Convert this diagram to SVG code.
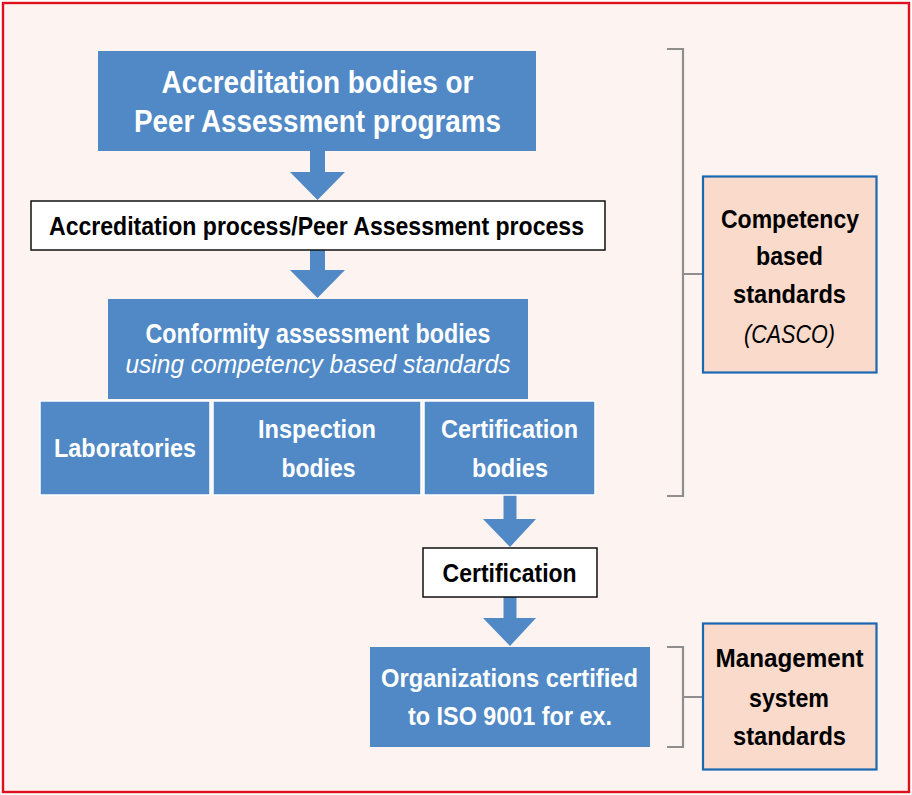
<svg xmlns="http://www.w3.org/2000/svg" width="912" height="795" viewBox="0 0 912 795">
<style>
.blue{fill:#5089C6}
.white{fill:#FFFFFF;stroke:#111111;stroke-width:1.5}
.std{fill:#F9DACB;stroke:#1A68B2;stroke-width:2.2}
.br{fill:none;stroke:#8E8E8E;stroke-width:2.2}
.arr{fill:#5089C6}
text{font-family:"Liberation Sans",Arial,sans-serif;font-weight:bold;text-anchor:middle}
.w{fill:#FFFFFF}
.k{fill:#000000}
.it{font-style:italic;font-weight:normal}
</style>
<rect x="0" y="0" width="912" height="795" fill="#FFFFFF"/>
<rect x="3" y="3" width="906" height="789" fill="#FDF4F1" stroke="#E0101E" stroke-width="2.4"/>
<g id="connectors">
<polygon class="arr" points="310,150 325,150 325,172 345,172 317.5,200 290,172 310,172"/>
<polygon class="arr" points="310,250 325,250 325,270 345,270 317.5,298 290,270 310,270"/>
<polygon class="arr" points="503.5,495 516.5,495 516.5,519 536,519 510,547 483,519 503.5,519"/>
<polygon class="arr" points="503.5,597 516.5,597 516.5,618 536,618 510,646 483,618 503.5,618"/>
<path class="br" d="M667,49 H683 V496 H667 M683,274 H703"/>
<path class="br" d="M667,647 H683 V747 H667 M683,697 H703"/>
</g>
<g id="accreditation-bodies">
<rect class="blue" x="98" y="51" width="438" height="100"/>
<text class="w" x="317.5" y="93" font-size="31" textLength="312" lengthAdjust="spacingAndGlyphs">Accreditation bodies or</text>
<text class="w" x="317.5" y="132" font-size="31" textLength="367" lengthAdjust="spacingAndGlyphs">Peer Assessment programs</text>
</g>
<g id="accreditation-process">
<rect class="white" x="31" y="201" width="574" height="49"/>
<text class="k" x="316.5" y="235" font-size="25.5" textLength="535" lengthAdjust="spacingAndGlyphs">Accreditation process/Peer Assessment process</text>
</g>
<g id="conformity-assessment-bodies">
<rect class="blue" x="108" y="299" width="420" height="100"/>
<text class="w" x="318" y="343" font-size="27" textLength="345" lengthAdjust="spacingAndGlyphs">Conformity assessment bodies</text>
<text class="w it" x="318" y="373" font-size="26" textLength="385" lengthAdjust="spacingAndGlyphs">using competency based standards</text>
</g>
<g id="laboratories">
<rect class="blue" x="40" y="401" width="170" height="94" stroke="#FFFFFF" stroke-width="1.5"/>
<text class="w" x="125" y="457" font-size="26" textLength="142" lengthAdjust="spacingAndGlyphs">Laboratories</text>
</g>
<g id="inspection-bodies">
<rect class="blue" x="213" y="401" width="208" height="94" stroke="#FFFFFF" stroke-width="1.5"/>
<text class="w" x="317" y="438" font-size="26" textLength="118" lengthAdjust="spacingAndGlyphs">Inspection</text>
<text class="w" x="318.5" y="477" font-size="26" textLength="74" lengthAdjust="spacingAndGlyphs">bodies</text>
</g>
<g id="certification-bodies">
<rect class="blue" x="424" y="401" width="171" height="94" stroke="#FFFFFF" stroke-width="1.5"/>
<text class="w" x="509.5" y="438" font-size="26" textLength="137" lengthAdjust="spacingAndGlyphs">Certification</text>
<text class="w" x="510" y="477" font-size="26" textLength="76" lengthAdjust="spacingAndGlyphs">bodies</text>
</g>
<g id="certification">
<rect class="white" x="423" y="548" width="174" height="49"/>
<text class="k" x="509.6" y="582" font-size="25.5" textLength="134" lengthAdjust="spacingAndGlyphs">Certification</text>
</g>
<g id="organizations-certified">
<rect class="blue" x="370" y="647" width="280" height="100"/>
<text class="w" x="509.5" y="687" font-size="26" textLength="257" lengthAdjust="spacingAndGlyphs">Organizations certified</text>
<text class="w" x="510" y="725" font-size="26" textLength="204" lengthAdjust="spacingAndGlyphs">to ISO 9001 for ex.</text>
</g>
<g id="competency-based-standards">
<rect class="std" x="703" y="176.5" width="173.5" height="196"/>
<text class="k" x="790" y="228" font-size="25" textLength="138" lengthAdjust="spacingAndGlyphs">Competency</text>
<text class="k" x="789.5" y="265" font-size="25" textLength="67" lengthAdjust="spacingAndGlyphs">based</text>
<text class="k" x="789.5" y="303" font-size="25" textLength="113" lengthAdjust="spacingAndGlyphs">standards</text>
<text class="k it" x="789.5" y="343" font-size="25" textLength="91" lengthAdjust="spacingAndGlyphs">(CASCO)</text>
</g>
<g id="management-system-standards">
<rect class="std" x="703" y="623.5" width="173.5" height="146"/>
<text class="k" x="789.5" y="667" font-size="25" textLength="148" lengthAdjust="spacingAndGlyphs">Management</text>
<text class="k" x="789" y="707" font-size="25" textLength="80" lengthAdjust="spacingAndGlyphs">system</text>
<text class="k" x="789.5" y="745" font-size="25" textLength="113" lengthAdjust="spacingAndGlyphs">standards</text>
</g>
</svg>
